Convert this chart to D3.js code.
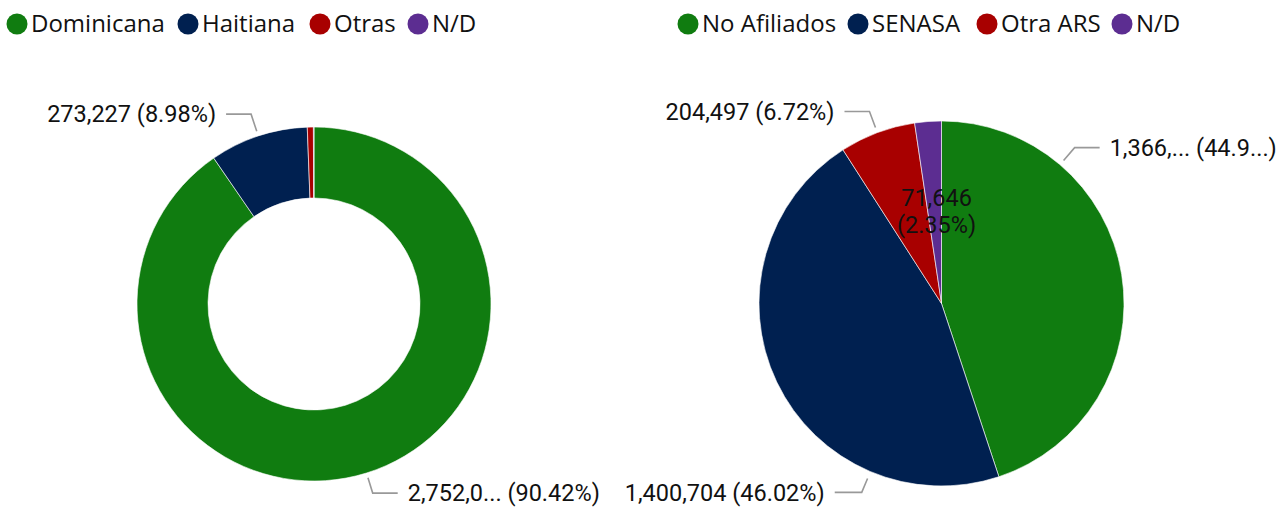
<!DOCTYPE html>
<html><head><meta charset="utf-8">
<script src="https://cdn.jsdelivr.net/npm/d3@7"></script>
<style>
html,body{margin:0;padding:0;background:#fff;}
svg{display:block;}
.leg{font-family:"Segoe UI","Open Sans","Noto Sans",sans-serif;font-size:24px;fill:#111;}
.lbl{font-family:"DIN","Roboto",sans-serif;font-size:23.5px;fill:#111;}
</style></head>
<body>
<script>
// ---- data ----
const leftCategories = ["Dominicana","Haitiana","Otras","N/D"];
const leftValues = [2752050, 273227, 16800, 1609];
const leftLabels = ["2,752,0... (90.42%)","273,227 (8.98%)",null,null];

const rightCategories = ["No Afiliados","SENASA","Otra ARS","N/D"];
const rightValues = [1366839, 1400704, 204497, 71646];
const rightLabels = ["1,366,... (44.9...)","1,400,704 (46.02%)","204,497 (6.72%)","71,646|(2.35%)"];

const colors = ["#107C10","#002050","#A80000","#5C2D91"];

const W = 1281, H = 514;
const svg = d3.select("body").append("svg").attr("width", W).attr("height", H);

function legend(cats, x0s, y) {
  const g = svg.append("g");
  cats.forEach((c,i)=>{
    g.append("circle").attr("cx", x0s[i]).attr("cy", y).attr("r", 10.5).attr("fill", colors[i]);
    g.append("text").attr("class","leg").attr("x", x0s[i]+14).attr("y", y).attr("dy","0.35em").text(c);
  });
}
legend(leftCategories, [17,188,320,418], 24);
legend(rightCategories, [688,858,987,1122], 24);

function drawPie(cx, cy, rOuter, rInner, values, labels, leaders, inside) {
  const pie = d3.pie().sort(null).value(d=>d)(values);
  const arc = d3.arc().innerRadius(rInner).outerRadius(rOuter);
  const g = svg.append("g").attr("transform", `translate(${cx},${cy})`);
  g.selectAll("path").data(pie).join("path")
    .attr("d", arc).attr("fill", (d,i)=>colors[i])
    .attr("stroke", "#fff").attr("stroke-width", 0.6);
  pie.forEach((d,i)=>{
    const lab = labels[i];
    if (!lab) return;
    if (inside[i]) {
      const parts = lab.split("|");
      const [ix, iy] = inside[i];
      const t = g.append("text").attr("class","lbl").attr("text-anchor","middle")
        .attr("x", ix).attr("y", iy);
      parts.forEach((p,k)=> t.append("tspan").attr("x", ix).attr("dy", k===0? "0.35em":"1.15em").text(p));
      return;
    }
    const L = leaders[i];
    const a = (L.angle != null ? L.angle : (d.startAngle + d.endAngle) / 2 * 180 / Math.PI) * Math.PI / 180;
    const p1 = [L.r1*Math.sin(a), -L.r1*Math.cos(a)];
    const p2 = [L.r2*Math.sin(a), -L.r2*Math.cos(a)];
    const p3 = [p2[0] + L.dir*L.len, p2[1]];
    g.append("polyline").attr("points", [p1,p2,p3].map(p=>p.join(",")).join(" "))
      .attr("fill","none").attr("stroke","#999").attr("stroke-width",1.6);
    g.append("text").attr("class","lbl")
      .attr("x", p3[0] + L.dir*10).attr("y", p3[1])
      .attr("dy","0.35em").attr("text-anchor", L.dir>0 ? "start":"end").text(lab);
  });
}

drawPie(314, 304, 177, 106, leftValues, leftLabels,
  [{angle:null,r1:182,r2:198,dir:1,len:25},{angle:null,r1:182,r2:200,dir:-1,len:25},null,null],
  [null,null,null,null]);

drawPie(941.5, 303.5, 182.5, 0, rightValues, rightLabels,
  [{angle:40.5,r1:188,r2:205,dir:1,len:25},{angle:202.9,r1:190,r2:205,dir:-1,len:27},{angle:null,r1:188,r2:205,dir:-1,len:25},null],
  [null,null,null,[-5,-106]]);
</script>
</body></html>
